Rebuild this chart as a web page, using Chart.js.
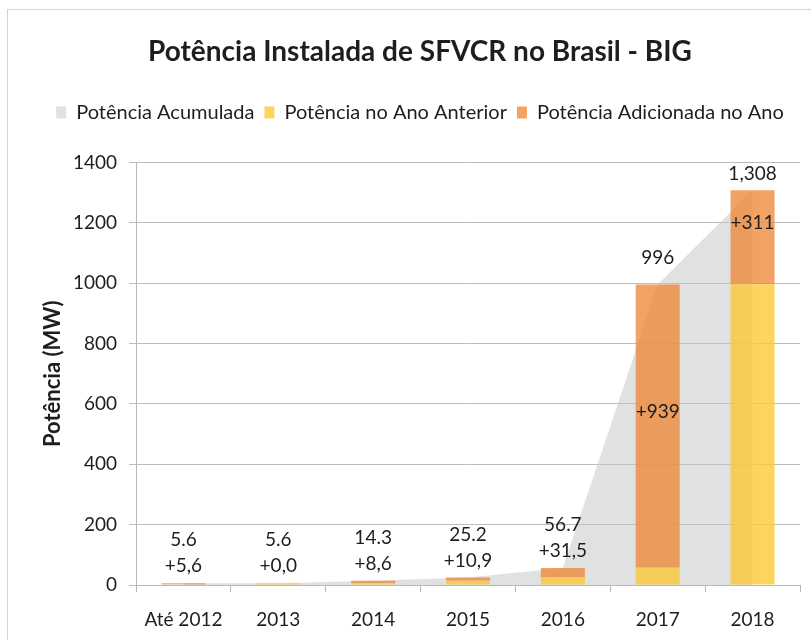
<!DOCTYPE html>
<html>
<head>
<meta charset="utf-8">
<script src="https://cdn.jsdelivr.net/npm/chart.js@4.4.0/dist/chart.umd.min.js"></script>
<style>
  html, body { margin: 0; padding: 0; background: #fff; width: 811px; height: 640px; overflow: hidden; }
  #frame { position: absolute; left: 7px; top: 9px; width: 900px; height: 700px; border: 1px solid #d4d4d4; box-sizing: border-box; }
  canvas { position: absolute; left: 0; top: 0; }
</style>
</head>
<body>
<div id="frame"></div>
<canvas id="c" width="836" height="640"></canvas>
<script>
// ---- data ----
const categories = ['Até 2012', '2013', '2014', '2015', '2016', '2017', '2018'];
const accumulated = [5.6, 5.6, 14.3, 25.2, 56.7, 996, 1308];
const previousYear = [0, 5.6, 5.7, 14.3, 25.2, 57, 997];
const addedInYear = [5.6, 0.0, 8.6, 10.9, 31.5, 939, 311];
const yTicks = [0, 200, 400, 600, 800, 1000, 1200, 1400];

const FONT = 'Lato, "Open Sans", sans-serif';
const TXT = '#1e1e1e';

function fmtTotal(v) {
  return v < 100 ? v.toFixed(1) : Math.round(v).toLocaleString('en-US');
}
function fmtAdded(v) {
  return '+' + (v < 100 ? v.toFixed(1).replace('.', ',') : String(Math.round(v)));
}

const legendGap = {
  id: 'legendGap',
  beforeInit(chart) {
    const lg = chart.legend;
    if (!lg) return;
    const origFit = lg.fit;
    lg.fit = function () {
      origFit.call(this);
      this.height += 30;
    };
  }
};

const labelPlugin = {
  id: 'barLabels',
  afterDatasetsDraw(chart) {
    const ctx = chart.ctx;
    const y = chart.scales.y;
    const x = chart.scales.x;
    const area = chart.chartArea;
    ctx.save();
    ctx.font = '19px ' + FONT;
    ctx.fillStyle = TXT;
    ctx.textAlign = 'center';
    ctx.textBaseline = 'middle';
    categories.forEach((c, i) => {
      const cx = x.getPixelForValue(i);
      const top = y.getPixelForValue(accumulated[i]);
      const base = y.getPixelForValue(previousYear[i]);
      const segH = base - top;
      if (segH < 60) {
        ctx.fillText(fmtAdded(addedInYear[i]), cx, top - 17);
        ctx.fillText(fmtTotal(accumulated[i]), cx, top - 43);
      } else {
        ctx.fillText(fmtAdded(addedInYear[i]), cx, (top + base) / 2 - 14);
        ctx.fillText(fmtTotal(accumulated[i]), cx, Math.max(top - 27, area.top + 11));
      }
    });
    ctx.restore();
  }
};

new Chart(document.getElementById('c'), {
  data: {
    labels: categories,
    datasets: [
      {
        type: 'line',
        label: 'Potência Acumulada',
        data: accumulated,
        stack: 'area',
        order: 3,
        fill: 'origin',
        backgroundColor: 'rgba(196,198,198,0.52)',
        borderColor: 'rgba(196,198,198,0)',
        borderWidth: 0,
        pointRadius: 0,
        tension: 0
      },
      {
        type: 'bar',
        label: 'Potência no Ano Anterior',
        data: previousYear,
        stack: 'bars',
        order: 1,
        backgroundColor: 'rgba(250,202,55,0.8)',
        borderWidth: 0,
        barPercentage: 0.58,
        categoryPercentage: 0.8
      },
      {
        type: 'bar',
        label: 'Potência Adicionada no Ano',
        data: addedInYear,
        stack: 'bars',
        order: 2,
        backgroundColor: 'rgba(239,140,61,0.8)',
        borderWidth: 0,
        barPercentage: 0.58,
        categoryPercentage: 0.8
      }
    ]
  },
  options: {
    responsive: false,
    animation: false,
    layout: { padding: { top: 35, left: 40, right: 36, bottom: 0 } },
    plugins: {
      filler: { drawTime: 'beforeDatasetsDraw' },
      tooltip: { enabled: false },
      title: {
        display: true,
        text: 'Potência Instalada de SFVCR no Brasil - BIG',
        color: TXT,
        font: { family: FONT, size: 28, weight: 'bold' },
        padding: { top: 0, bottom: 24 }
      },
      legend: {
        display: true,
        labels: {
          sort: (a, b) => a.datasetIndex - b.datasetIndex,
          color: TXT,
          font: { family: FONT, size: 20 },
          boxWidth: 10,
          boxHeight: 12,
          padding: 10
        }
      }
    },
    scales: {
      x: {
        stacked: true,
        offset: true,
        afterFit(scale) { scale.height = 55; },
        grid: { display: true, drawOnChartArea: false, drawTicks: true, tickLength: 7, color: '#b9b9b9', offset: true },
        border: { display: true, color: '#b9b9b9' },
        ticks: { color: TXT, font: { family: FONT, size: 19 }, padding: 16 }
      },
      y: {
        stacked: true,
        min: 0,
        max: 1400,
        afterFit(scale) { scale.width = 96; },
        afterBuildTicks(scale) { scale.ticks = yTicks.map(v => ({ value: v })); },
        grid: { color: '#bdbdbd', tickLength: 7 },
        border: { display: true, color: '#b9b9b9' },
        ticks: { color: TXT, font: { family: FONT, size: 19 }, padding: 12, callback: (v) => String(v) },
        title: {
          display: true,
          text: 'Potência (MW)',
          color: TXT,
          font: { family: FONT, size: 22, weight: 'bold' },
          padding: 0
        }
      }
    }
  },
  plugins: [legendGap, labelPlugin]
});
</script>
</body>
</html>
